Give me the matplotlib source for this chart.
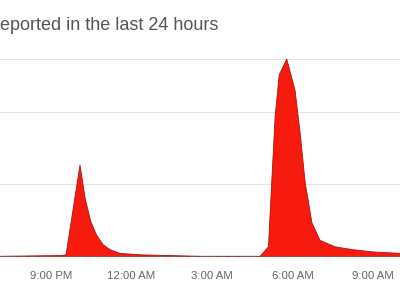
import numpy as np
import matplotlib.pyplot as plt

# hours since midnight of the first day (24 = 12:00 AM next day)
hours = [19.10, 21.34, 21.56, 22.08, 22.27, 22.48, 22.70, 22.94, 23.20, 23.57,
         24.32, 26.55, 28.79, 29.10, 29.22, 29.35, 29.50, 29.78, 30.09, 30.28,
         30.47, 30.72, 31.02, 31.58, 32.25, 33.00, 34.01]
reports = [0.1, 0.2, 0.3, 12.7, 8.1, 4.9, 3.0, 1.7, 1.0, 0.5,
           0.3, 0.1, 0.1, 1.4, 10.2, 19.4, 25.1, 27.3, 23.0, 17.1,
           10.2, 4.7, 2.3, 1.4, 1.0, 0.7, 0.5]

tick_hours = [21, 24, 27, 30, 33]
tick_labels = ["9:00 PM", "12:00 AM", "3:00 AM", "6:00 AM", "9:00 AM"]

plt.rcParams['font.family'] = ['Liberation Sans', 'DejaVu Sans']

fig = plt.figure(figsize=(4, 3), dpi=100)
ax = fig.add_axes([0, 0.1433, 1, 0.66])

for g in [10, 20, 27.3]:
    ax.axhline(g, color='#e3e3e3', lw=0.8, zorder=0)

ax.fill_between(hours, reports, color='#f71a0e', lw=0)
ax.plot(hours, reports, color='#b01010', lw=0.6)
ax.axhline(0, color='#666666', lw=1.2, ls=(0, (4, 2)))

ax.set_xlim(19.1, 34.0)
ax.set_ylim(0, 27.3)
ax.set_xticks(tick_hours)
ax.set_xticklabels(tick_labels)
ax.tick_params(axis='x', length=0, pad=10, labelsize=8.2, labelcolor='#666666')
ax.set_yticks([])
for s in ax.spines.values():
    s.set_visible(False)

fig.text(0.0, 1 - 26 / 300, "eported in the last 24 hours", fontsize=13,
         color='#555555', ha='left', va='center')

fig.savefig("out.png", dpi=100)
